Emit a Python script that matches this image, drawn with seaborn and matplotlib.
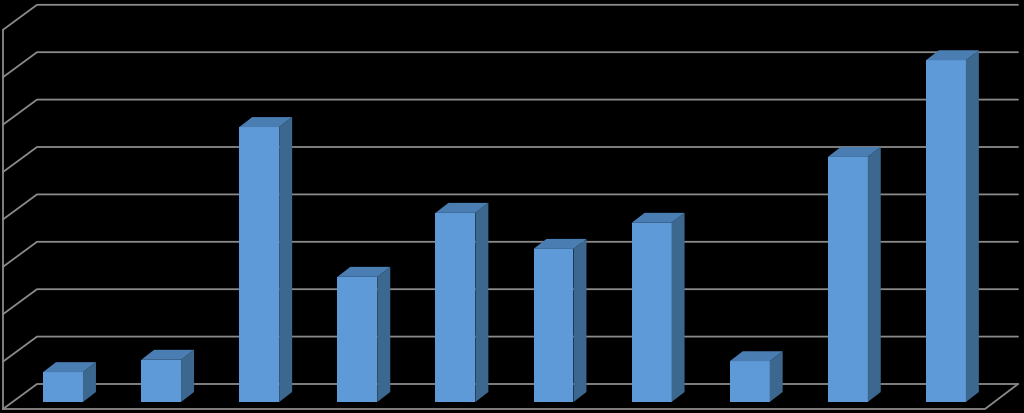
import matplotlib
matplotlib.use("Agg")
import matplotlib.pyplot as plt
from matplotlib.patches import Polygon
import pandas as pd
import seaborn as sns

# values (no labels in the original chart)
categories = ["1", "2", "3", "4", "5", "6", "7", "8", "9", "10"]
values = [0.63, 0.89, 5.80, 2.64, 3.99, 3.23, 3.78, 0.86, 5.17, 7.21]
grid_levels = [0, 1, 2, 3, 4, 5, 6, 7, 8]

df = pd.DataFrame({"category": categories, "value": values})

FRONT = "#5f9ad8"
TOP = "#4a7db1"
SIDE = "#3c6890"
GRID = "#8a8a8a"

# unit sizes in data coords (one category = 98.1 px, one value = 47.4 px)
px_x = 1 / 98.1
px_y = 1 / 47.4
depth_x, depth_y = 13 * px_x, 10 * px_y

fig, ax = plt.subplots(figsize=(10.24, 4.13), dpi=100)
fig.patch.set_facecolor("black")
ax.set_position([0, 0, 1, 1])
ax.set_facecolor("black")

sns.barplot(data=df, x="category", y="value", color=FRONT, saturation=1,
            width=0.407, ax=ax, zorder=3)

ax.set_xlim(-63 * px_x, 961 * px_x)
ax.set_ylim(-11 * px_y, 402 * px_y)
ax.axis("off")

# side and top faces of each bar
for bar in list(ax.patches):
    x0, x1 = bar.get_x(), bar.get_x() + bar.get_width()
    y1 = bar.get_height()
    ax.add_patch(Polygon([(x1, 0), (x1 + depth_x, depth_y), (x1 + depth_x, y1 + depth_y), (x1, y1)],
                         facecolor=SIDE, edgecolor="none", zorder=3))
    ax.add_patch(Polygon([(x0, y1), (x0 + depth_x, y1 + depth_y), (x1 + depth_x, y1 + depth_y), (x1, y1)],
                         facecolor=TOP, edgecolor="none", zorder=3))

# walls and floor
wall_left = -26 * px_x
wall_right = 955 * px_x
front_left = -60 * px_x
front_right = 922 * px_x
base = 18 * px_y
shift = 25 * px_y
line = dict(color=GRID, lw=1.3, zorder=1, solid_capstyle="round")

for lev in grid_levels:
    y = base + lev
    ax.plot([front_left, wall_left, wall_right], [y - shift, y, y], **line)
ax.plot([front_left, front_left], [base - shift, base + 8 - shift], **line)
ax.plot([front_left, front_right, wall_right], [base - shift, base - shift, base], **line)

fig.savefig("out.png", dpi=100, facecolor="black")
